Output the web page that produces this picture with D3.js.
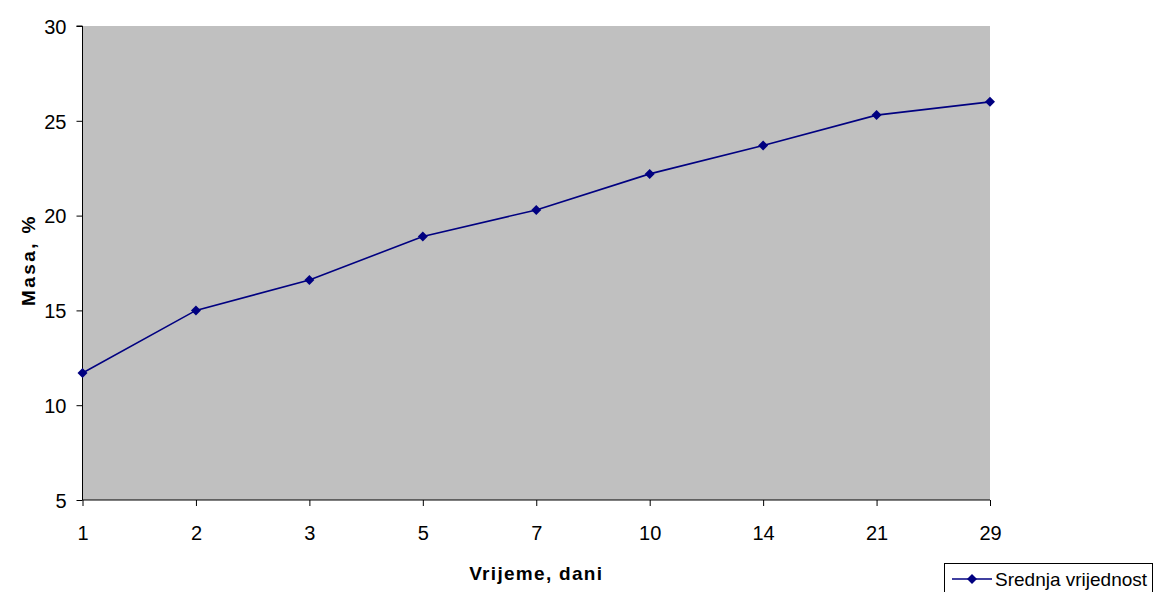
<!DOCTYPE html>
<html><head><meta charset="utf-8">
<script src="https://cdn.jsdelivr.net/npm/d3@7/dist/d3.min.js"></script>
<style>body{margin:0;background:#fff}svg{display:block}text{font-family:"Liberation Sans",Arial,sans-serif}</style>
</head><body><svg id="c" width="1154" height="592"></svg>
<script>
const categories = ["1","2","3","5","7","10","14","21","29"];
const values = [11.7, 15.0, 16.6, 18.9, 20.3, 22.2, 23.7, 25.3, 26.0];
const yTicks = [5, 10, 15, 20, 25, 30];
const seriesName = "Srednja vrijednost";
const xTitle = "Vrijeme, dani";
const yTitle = "Masa, %";

const svg = d3.select("#c");
const L = 82.5, R = 990, T = 26, B = 500;
const x = d3.scalePoint().domain(categories).range([L, R]);
const y = d3.scaleLinear().domain([5, 30]).range([B, T]);
const col = "#000080";

svg.append("rect").attr("x", L).attr("y", T).attr("width", R - L).attr("height", B - T).attr("fill", "#c0c0c0");

const ya = svg.append("g").attr("transform", `translate(${L},0)`)
  .call(d3.axisLeft(y).tickValues(yTicks).tickSize(6).tickPadding(10).tickFormat(d3.format("d")));
ya.select(".domain").attr("d", `M-6,${T}H0V${B}`).attr("stroke", "#000");
ya.selectAll("text").attr("font-size", 20).attr("fill", "#000").attr("dy", "0.36em");

const xa = svg.append("g").attr("transform", `translate(0,${B})`)
  .call(d3.axisBottom(x).tickSize(6).tickPadding(8));
xa.select(".domain").attr("d", `M${L},0H${R}`).attr("stroke", "#000");
xa.selectAll("text").attr("font-size", 20).attr("fill", "#000").attr("y", 40).attr("dy", null);

svg.append("text").attr("x", (L + R) / 2).attr("y", 580).attr("text-anchor", "middle")
  .attr("font-size", 19).attr("font-weight", "bold").attr("letter-spacing", 1.3).text(xTitle);
svg.append("text").attr("transform", `translate(35,${260}) rotate(-90)`).attr("text-anchor", "middle")
  .attr("font-size", 19).attr("font-weight", "bold").attr("letter-spacing", 2.4).text(yTitle);

const data = categories.map((c, i) => ({c, v: values[i]}));
svg.append("path").datum(data).attr("fill", "none").attr("stroke", col).attr("stroke-width", 1.6)
  .attr("d", d3.line().x(d => x(d.c)).y(d => y(d.v)));
svg.selectAll(".m").data(data).enter().append("path")
  .attr("transform", d => `translate(${x(d.c)},${y(d.v)})`)
  .attr("d", "M0,-5L5,0L0,5L-5,0Z").attr("fill", col);

// legend
const lg = svg.append("g");
lg.append("rect").attr("x", 944.5).attr("y", 563.5).attr("width", 208).attr("height", 40)
  .attr("fill", "#fff").attr("stroke", "#000");
lg.append("line").attr("x1", 952).attr("x2", 992).attr("y1", 579).attr("y2", 579).attr("stroke", col).attr("stroke-width", 1.6);
lg.append("path").attr("transform", "translate(972,579)").attr("d", "M0,-5L5,0L0,5L-5,0Z").attr("fill", col);
lg.append("text").attr("x", 995).attr("y", 586).attr("font-size", 19).text(seriesName);
</script></body></html>
